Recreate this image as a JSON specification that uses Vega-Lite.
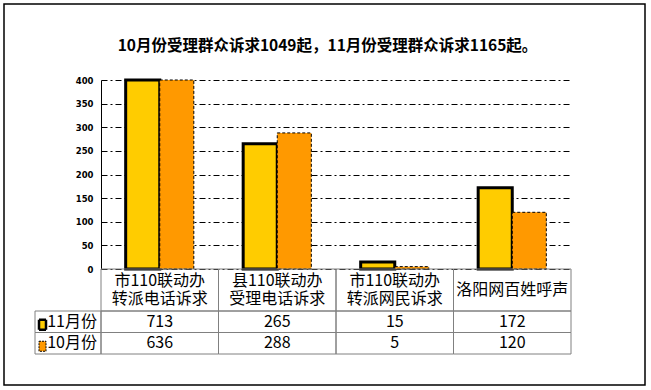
{
  "$schema": "https://vega.github.io/schema/vega-lite/v6.json",
  "width": 641,
  "height": 381,
  "padding": {"left": 4, "top": 4, "right": 6, "bottom": 5},
  "autosize": {"type": "none"},
  "title": {"text": "10月份受理群众诉求1049起，11月份受理群众诉求1165起。", "font": "Noto Sans CJK SC", "fontSize": 15.5, "fontWeight": "bold", "color": "black", "anchor": "middle", "frame": "group", "offset": -57, "baseline": "middle", "dx": 3},
  "config": {
    "view": {"stroke": "black", "strokeWidth": 1.5},
    "text": {"font": "Noto Sans CJK SC", "fontSize": 16, "color": "black"}
  },
  "data": {"values": [
    {"cat": "市110联动办\n转派电话诉求", "month": "11月份", "value": 713},
    {"cat": "县110联动办\n受理电话诉求", "month": "11月份", "value": 265},
    {"cat": "市110联动办\n转派网民诉求", "month": "11月份", "value": 15},
    {"cat": "洛阳网百姓呼声", "month": "11月份", "value": 172},
    {"cat": "市110联动办\n转派电话诉求", "month": "10月份", "value": 636},
    {"cat": "县110联动办\n受理电话诉求", "month": "10月份", "value": 288},
    {"cat": "市110联动办\n转派网民诉求", "month": "10月份", "value": 5},
    {"cat": "洛阳网百姓呼声", "month": "10月份", "value": 120}
  ]},
  "resolve": {"scale": {"x": "independent", "y": "independent", "strokeWidth": "independent", "strokeDash": "independent"}},
  "layer": [
    {
      "mark": {"type": "bar"},
      "encoding": {
        "x": {"field": "cat", "type": "nominal", "scale": {"domain": ["市110联动办\n转派电话诉求", "县110联动办\n受理电话诉求", "市110联动办\n转派网民诉求", "洛阳网百姓呼声"], "range": [97, 567], "paddingInner": 0.42, "paddingOuter": 0.21}, "axis": null},
        "xOffset": {"field": "month", "type": "nominal", "scale": {"domain": ["11月份", "10月份"], "paddingInner": 0, "paddingOuter": 0}},
        "y": {"field": "value", "type": "quantitative", "scale": {"domain": [0, 400], "range": [265, 76], "clamp": true, "nice": false, "zero": true},
          "axis": {"orient": "left", "offset": -97, "values": [0, 50, 100, 150, 200, 250, 300, 350, 400], "grid": true, "gridColor": "black", "gridDash": [6, 3, 2, 3], "gridWidth": 1, "gridOpacity": 1, "domain": true, "domainColor": "black", "domainWidth": 1, "ticks": false, "labelPadding": 8, "labelFont": "DejaVu Sans", "labelFontSize": 8.5, "labelFontWeight": "bold", "labelColor": "black", "title": null}},
        "fill": {"field": "month", "type": "nominal", "scale": {"domain": ["11月份", "10月份"], "range": ["#FFCC00", "#FF9900"]}, "legend": null},
        "stroke": {"field": "month", "type": "nominal", "scale": {"domain": ["11月份", "10月份"], "range": ["#000000", "#000000"]}, "legend": null},
        "strokeDash": {"field": "month", "type": "nominal", "scale": {"domain": ["11月份", "10月份"], "range": [[1, 0], [3, 2]]}, "legend": null},
        "strokeWidth": {"field": "month", "type": "nominal", "scale": {"domain": ["11月份", "10月份"], "range": [3, 1]}, "legend": null}
      }
    },
    {
      "transform": [{"filter": {"field": "month", "equal": "11月份"}}],
      "mark": {"type": "rect", "fill": "transparent", "stroke": "#808080", "strokeWidth": 1},
      "encoding": {
        "x": {"field": "cat", "type": "nominal", "scale": {"domain": ["市110联动办\n转派电话诉求", "县110联动办\n受理电话诉求", "市110联动办\n转派网民诉求", "洛阳网百姓呼声"], "range": [97, 567], "paddingInner": 0, "paddingOuter": 0}, "axis": null},
        "y": {"datum": "header", "type": "nominal", "scale": {"domain": ["header"], "range": [265, 307], "paddingInner": 0, "paddingOuter": 0}, "axis": null}
      }
    },
    {
      "mark": {"type": "rect", "fill": "transparent", "stroke": "#808080", "strokeWidth": 1},
      "encoding": {
        "x": {"field": "cat", "type": "nominal", "scale": {"domain": ["市110联动办\n转派电话诉求", "县110联动办\n受理电话诉求", "市110联动办\n转派网民诉求", "洛阳网百姓呼声"], "range": [97, 567], "paddingInner": 0, "paddingOuter": 0}, "axis": null},
        "y": {"field": "month", "type": "nominal", "scale": {"domain": ["11月份", "10月份"], "range": [307, 350], "paddingInner": 0, "paddingOuter": 0}, "axis": null}
      }
    },
    {
      "transform": [{"filter": {"field": "cat", "equal": "洛阳网百姓呼声"}}],
      "mark": {"type": "rect", "fill": "transparent", "stroke": "#808080", "strokeWidth": 1},
      "encoding": {
        "x": {"datum": "legend", "type": "nominal", "scale": {"domain": ["legend"], "range": [31, 97], "paddingInner": 0, "paddingOuter": 0}, "axis": null},
        "y": {"field": "month", "type": "nominal", "scale": {"domain": ["11月份", "10月份"], "range": [307, 350], "paddingInner": 0, "paddingOuter": 0}, "axis": null}
      }
    },
    {
      "transform": [{"filter": {"field": "month", "equal": "11月份"}}, {"filter": {"not": {"field": "cat", "equal": "洛阳网百姓呼声"}}}],
      "mark": {"type": "text", "lineBreak": "\n", "lineHeight": 18, "baseline": "middle", "align": "center", "dy": -9},
      "encoding": {
        "x": {"field": "cat", "type": "nominal", "scale": {"domain": ["市110联动办\n转派电话诉求", "县110联动办\n受理电话诉求", "市110联动办\n转派网民诉求", "洛阳网百姓呼声"], "range": [97, 567], "paddingInner": 0, "paddingOuter": 0}, "axis": null},
        "y": {"datum": "header", "type": "nominal", "scale": {"domain": ["header"], "range": [265, 307], "paddingInner": 0, "paddingOuter": 0}, "axis": null},
        "text": {"field": "cat"}
      }
    },
    {
      "transform": [{"filter": {"field": "month", "equal": "11月份"}}, {"filter": {"field": "cat", "equal": "洛阳网百姓呼声"}}],
      "mark": {"type": "text", "baseline": "middle", "align": "center"},
      "encoding": {
        "x": {"field": "cat", "type": "nominal", "scale": {"domain": ["市110联动办\n转派电话诉求", "县110联动办\n受理电话诉求", "市110联动办\n转派网民诉求", "洛阳网百姓呼声"], "range": [97, 567], "paddingInner": 0, "paddingOuter": 0}, "axis": null},
        "y": {"datum": "header", "type": "nominal", "scale": {"domain": ["header"], "range": [265, 307], "paddingInner": 0, "paddingOuter": 0}, "axis": null},
        "text": {"field": "cat"}
      }
    },
    {
      "mark": {"type": "text", "baseline": "middle", "align": "center"},
      "encoding": {
        "x": {"field": "cat", "type": "nominal", "scale": {"domain": ["市110联动办\n转派电话诉求", "县110联动办\n受理电话诉求", "市110联动办\n转派网民诉求", "洛阳网百姓呼声"], "range": [97, 567], "paddingInner": 0, "paddingOuter": 0}, "axis": null},
        "y": {"field": "month", "type": "nominal", "scale": {"domain": ["11月份", "10月份"], "range": [307, 350], "paddingInner": 0, "paddingOuter": 0}, "axis": null},
        "text": {"field": "value", "type": "quantitative", "format": "d"}
      }
    },
    {
      "transform": [{"filter": {"field": "cat", "equal": "洛阳网百姓呼声"}}],
      "mark": {"type": "text", "baseline": "middle", "align": "center", "dx": 4},
      "encoding": {
        "x": {"datum": "legend", "type": "nominal", "scale": {"domain": ["legend"], "range": [31, 97], "paddingInner": 0, "paddingOuter": 0}, "axis": null},
        "y": {"field": "month", "type": "nominal", "scale": {"domain": ["11月份", "10月份"], "range": [307, 350], "paddingInner": 0, "paddingOuter": 0}, "axis": null},
        "text": {"field": "month"}
      }
    },
    {
      "transform": [{"filter": {"field": "cat", "equal": "洛阳网百姓呼声"}}],
      "mark": {"type": "point", "shape": "M-0.7,-1H0.7V1H-0.7Z", "size": 100, "filled": true, "opacity": 1, "xOffset": -25.5, "yOffset": 3},
      "encoding": {
        "x": {"datum": "legend", "type": "nominal", "scale": {"domain": ["legend"], "range": [31, 97], "paddingInner": 0, "paddingOuter": 0}, "axis": null},
        "y": {"field": "month", "type": "nominal", "scale": {"domain": ["11月份", "10月份"], "range": [307, 350], "paddingInner": 0, "paddingOuter": 0}, "axis": null},
        "fill": {"field": "month", "type": "nominal", "scale": {"domain": ["11月份", "10月份"], "range": ["#FFCC00", "#FF9900"]}, "legend": null},
        "stroke": {"field": "month", "type": "nominal", "scale": {"domain": ["11月份", "10月份"], "range": ["#000000", "#000000"]}, "legend": null},
        "strokeDash": {"field": "month", "type": "nominal", "scale": {"domain": ["11月份", "10月份"], "range": [[1, 0], [2, 1]]}, "legend": null},
        "strokeWidth": {"field": "month", "type": "nominal", "scale": {"domain": ["11月份", "10月份"], "range": [2.5, 1]}, "legend": null}
      }
    }
  ]
}
